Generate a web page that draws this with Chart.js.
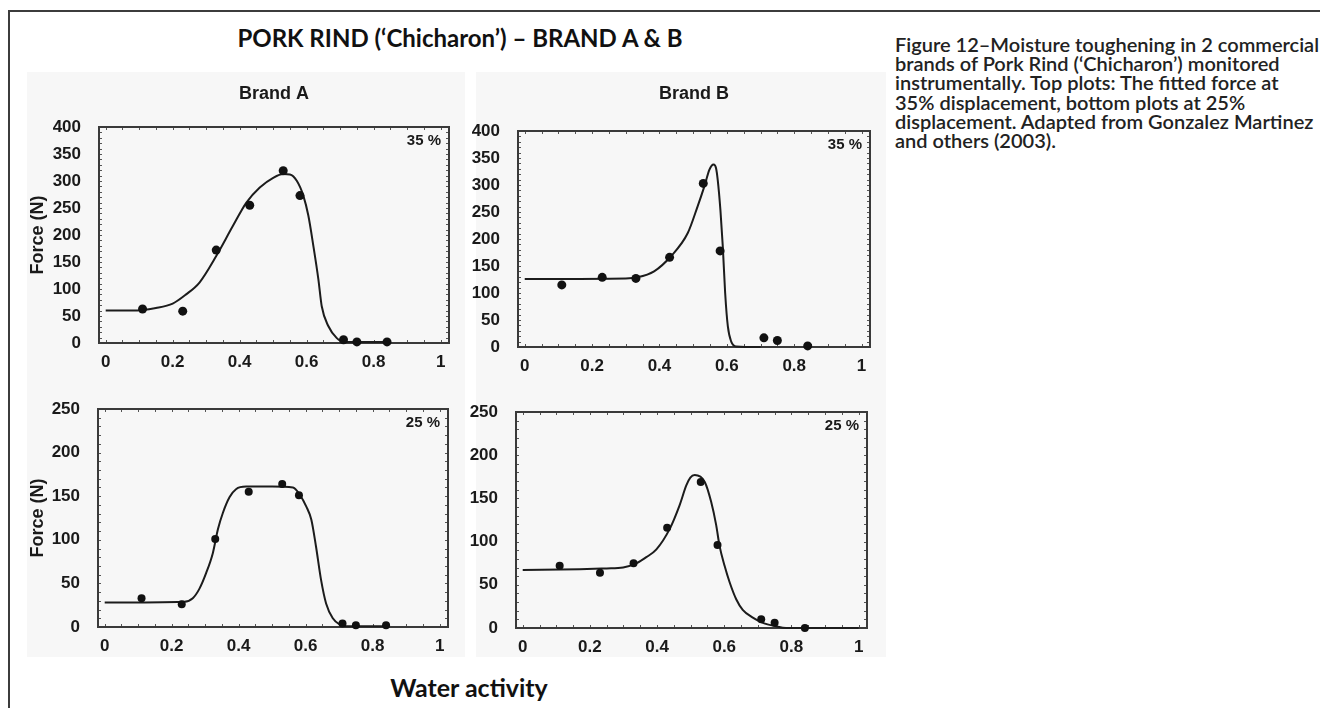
<!DOCTYPE html>
<html>
<head>
<meta charset="utf-8">
<script src="https://cdn.jsdelivr.net/npm/chart.js@4.4.1/dist/chart.umd.min.js"></script>
<style>
  html, body { margin: 0; padding: 0; background: #fff; }
  body { width: 1320px; height: 708px; position: relative; overflow: hidden; font-family: Lato, "Open Sans", sans-serif; }
  .rule-top { position: absolute; left: 8px; top: 10px; width: 1312px; height: 2px; background: #3c3c3c; }
  .rule-left { position: absolute; left: 8px; top: 10px; width: 2px; height: 698px; background: #3c3c3c; }
  .scan { position: absolute; background: #f7f7f7; }
  canvas { position: absolute; }
  #title { position: absolute; left: 110px; top: 23px; width: 700px; text-align: center;
           font-size: 24px; font-weight: 700; line-height: 30px; color: #111; }
  #xlabel { position: absolute; left: 319px; top: 672px; width: 300px; text-align: center;
            font-size: 25px; font-weight: 700; line-height: 30px; color: #111; }
  #caption { position: absolute; left: 895px; top: 35px; width: 425px; font-size: 20px; font-weight: 600;
             line-height: 19.2px; color: #222; white-space: nowrap; }
</style>
</head>
<body>
<div class="rule-top"></div>
<div class="rule-left"></div>
<div class="scan" style="left:27px;top:72px;width:438px;height:585px"></div>
<div class="scan" style="left:476px;top:72px;width:410px;height:585px"></div>

<div id="title">PORK RIND (‘Chicharon’) – BRAND A &amp; B</div>
<div id="xlabel">Water activity</div>
<div id="caption">Figure 12–Moisture toughening in 2 commercial<br>brands of Pork Rind (‘Chicharon’) monitored<br>instrumentally. Top plots: The fitted force at<br>35% displacement, bottom plots at 25%<br>displacement. Adapted from Gonzalez Martinez<br>and others (2003).</div>

<canvas id="a35"></canvas>
<canvas id="b35"></canvas>
<canvas id="a25"></canvas>
<canvas id="b25"></canvas>

<script>
// measured water activities (same for every panel)
const waterActivity = [0.11, 0.23, 0.33, 0.43, 0.53, 0.58, 0.71, 0.75, 0.84];

// measured force (N)
const forceA35 = [63, 59, 172, 255, 319, 273, 6, 2, 2];
const forceB35 = [115, 129, 127, 166, 303, 178, 17, 12, 2];
const forceA25 = [33, 26, 101, 155, 164, 151, 4, 2, 2];
const forceB25 = [72, 64, 75, 116, 169, 96, 10, 6, 0];

// fitted curves
const fitA35X = [0, 0.08, 0.15, 0.2, 0.24, 0.28, 0.33, 0.38, 0.42, 0.46, 0.5, 0.53, 0.55, 0.57, 0.59, 0.605, 0.62, 0.635, 0.645, 0.665, 0.69, 0.71, 0.84];
const fitA35Y = [60, 60, 65, 73, 90, 112, 161, 217, 260, 288, 306, 313, 312, 301, 273, 236, 180, 118, 68, 31, 9, 2, 2];
const fitB35X = [0, 0.3, 0.335, 0.384, 0.434, 0.484, 0.513, 0.533, 0.548, 0.555, 0.561, 0.568, 0.573, 0.581, 0.588, 0.595, 0.603, 0.613, 0.628, 0.7];
const fitB35Y = [126, 127, 129, 140, 168, 211, 260, 297, 328, 336, 338, 331, 309, 253, 186, 100, 38, 10, 1, 0];
const fitA25X = [0, 0.238, 0.263, 0.283, 0.303, 0.323, 0.338, 0.353, 0.373, 0.392, 0.422, 0.5, 0.562, 0.582, 0.602, 0.617, 0.631, 0.646, 0.661, 0.681, 0.701, 0.721, 0.84];
const fitA25Y = [28, 29, 33, 44, 62, 85, 112, 131, 149, 158, 161, 161, 160, 152, 138, 123, 92, 54, 27, 10, 3, 1, 1];
const fitB25X = [0, 0.17, 0.25, 0.299, 0.339, 0.368, 0.398, 0.438, 0.467, 0.487, 0.499, 0.512, 0.542, 0.561, 0.576, 0.586, 0.601, 0.616, 0.636, 0.655, 0.685, 0.715, 0.754, 0.784, 1.0];
const fitB25Y = [67, 68, 69, 70, 75, 82, 91, 115, 142, 165, 174, 177, 169, 146, 119, 95, 72, 53, 33, 21, 12, 6, 2, 0, 0];

// tick labels
const xTicks = [0, 0.2, 0.4, 0.6, 0.8, 1];
const yTicks35 = [0, 50, 100, 150, 200, 250, 300, 350, 400];
const yTicks25 = [0, 50, 100, 150, 200, 250];

const tickFont = { family: '"Liberation Sans", Arial, sans-serif', size: 17, weight: 'bold' };

// frame box, inward minor ticks, panel heading and % label
const panelDecor = {
  id: 'panelDecor',
  beforeDatasetsDraw(chart, args, opts) {
    const { ctx, chartArea: a, scales: { x, y } } = chart;
    ctx.save();
    ctx.strokeStyle = '#555';
    ctx.lineWidth = 1;
    ctx.beginPath();
    for (let i = 0; i <= 20; i++) {
      const px = Math.round(x.getPixelForValue(i * 0.05)) + 0.5;
      ctx.moveTo(px, a.bottom); ctx.lineTo(px, a.bottom - 3);
      ctx.moveTo(px, a.top); ctx.lineTo(px, a.top + 3);
    }
    for (let v = 0; v <= y.max; v += 10) {
      const py = Math.round(y.getPixelForValue(v)) + 0.5;
      ctx.moveTo(a.left, py); ctx.lineTo(a.left + 3, py);
      ctx.moveTo(a.right, py); ctx.lineTo(a.right - 3, py);
    }
    ctx.stroke();
    ctx.strokeStyle = '#3a3a3a';
    ctx.lineWidth = 2;
    ctx.strokeRect(a.left, a.top, a.right - a.left, a.bottom - a.top);
    ctx.restore();
  },
  afterDraw(chart, args, opts) {
    const { ctx, chartArea: a } = chart;
    ctx.save();
    ctx.fillStyle = '#1a1a1a';
    ctx.textBaseline = 'middle';
    if (opts.heading) {
      ctx.font = 'bold 18px "Liberation Sans", Arial, sans-serif';
      ctx.textAlign = 'center';
      ctx.fillText(opts.heading, (a.left + a.right) / 2, a.top + opts.headingDy);
    }
    ctx.font = 'bold 15px "Liberation Sans", Arial, sans-serif';
    ctx.textAlign = 'right';
    ctx.fillText(opts.label, a.right - 8, a.top + 14);
    ctx.restore();
  }
};

function makePanel(id, box, area, p) {
  const el = document.getElementById(id);
  el.width = box.w; el.height = box.h;
  el.style.left = box.left + 'px'; el.style.top = box.top + 'px';
  const xAxisH = 28;
  return new Chart(el, {
    type: 'scatter',
    data: {
      datasets: [
        {
          data: waterActivity.map((v, i) => ({ x: v, y: p.points[i] })),
          pointRadius: p.r, pointBackgroundColor: '#111', pointBorderWidth: 0,
          clip: false, order: 1
        },
        {
          data: p.fitX.map((v, i) => ({ x: v, y: p.fitY[i] })),
          showLine: true, pointRadius: 0, borderColor: '#1c1c1c', borderWidth: 2,
          cubicInterpolationMode: 'monotone', clip: false, order: 2
        }
      ]
    },
    options: {
      responsive: false, animation: false, events: [],
      layout: { padding: {
        left: 0,
        top: area.t - box.top,
        right: box.left + box.w - area.r,
        bottom: box.top + box.h - area.b - xAxisH
      } },
      plugins: {
        legend: { display: false }, tooltip: { enabled: false },
        panelDecor: { heading: p.heading, headingDy: p.headingDy, label: p.label }
      },
      scales: {
        x: {
          type: 'linear', min: -0.02, max: 1.025,
          grid: { display: false }, border: { display: false },
          afterBuildTicks: s => { s.ticks = xTicks.map(v => ({ value: v })); },
          afterFit: s => { s.height = xAxisH; },
          ticks: { font: tickFont, color: '#1a1a1a', padding: 1, autoSkip: false, maxRotation: 0,
                   callback: v => String(v) }
        },
        y: {
          type: 'linear', min: 0, max: p.yTicks[p.yTicks.length - 1],
          grid: { display: false }, border: { display: false },
          afterBuildTicks: s => { s.ticks = p.yTicks.map(v => ({ value: v })); },
          afterFit: s => { s.width = area.l - box.left; },
          ticks: { font: tickFont, color: '#1a1a1a', padding: 10, autoSkip: false },
          title: {
            display: !!p.yTitle, text: p.yTitle,
            font: { family: '"Liberation Sans", Arial, sans-serif', size: 18, weight: 'bold' },
            color: '#1a1a1a', padding: { top: 7, bottom: 0 }
          }
        }
      }
    },
    plugins: [panelDecor]
  });
}

makePanel('a35', { left: 20, top: 66, w: 450, h: 304 }, { l: 99, r: 449, t: 127, b: 343 },
  { points: forceA35, fitX: fitA35X, fitY: fitA35Y, yTicks: yTicks35, r: 4.5,
    heading: 'Brand A', headingDy: -33, label: '35 %', yTitle: 'Force (N)' });
makePanel('b35', { left: 470, top: 66, w: 420, h: 308 }, { l: 518, r: 870, t: 131, b: 347 },
  { points: forceB35, fitX: fitB35X, fitY: fitB35Y, yTicks: yTicks35, r: 4.5,
    heading: 'Brand B', headingDy: -37, label: '35 %' });
makePanel('a25', { left: 20, top: 376, w: 450, h: 284 }, { l: 98, r: 448, t: 409, b: 627 },
  { points: forceA25, fitX: fitA25X, fitY: fitA25Y, yTicks: yTicks25, r: 4,
    label: '25 %', yTitle: 'Force (N)' });
makePanel('b25', { left: 470, top: 376, w: 420, h: 284 }, { l: 516, r: 867, t: 412, b: 628 },
  { points: forceB25, fitX: fitB25X, fitY: fitB25Y, yTicks: yTicks25, r: 4,
    label: '25 %' });
</script>
</body>
</html>
